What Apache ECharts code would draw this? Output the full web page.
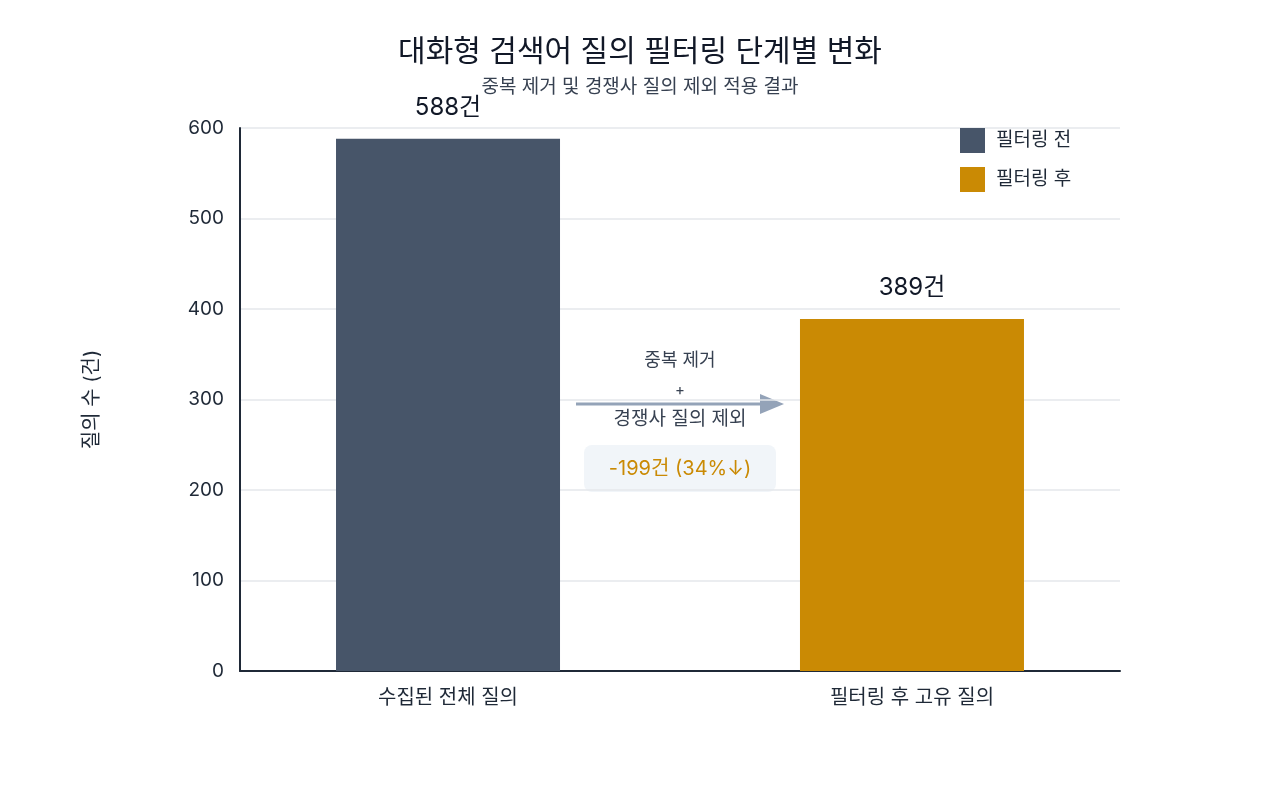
<!DOCTYPE html>
<html>
<head>
<meta charset="utf-8">
<script src="https://cdn.jsdelivr.net/npm/echarts@6/dist/echarts.min.js"></script>
<style>
  html, body { margin: 0; padding: 0; background: #fff; }
  #chart { width: 1280px; height: 800px; }
</style>
</head>
<body>
<div id="chart"></div>
<script>
const categories = ["수집된 전체 질의", "필터링 후 고유 질의"];
const seriesNames = ["필터링 전", "필터링 후"];
const beforeValues = [588, "-"];
const afterValues = ["-", 389];
const yTicks = [0, 100, 200, 300, 400, 500, 600];

const FONT = 'Inter, "Noto Sans CJK KR", sans-serif';
const DARK = "#1f2937";

var chart = echarts.init(document.getElementById("chart"));

chart.setOption({
  backgroundColor: "#ffffff",
  textStyle: { fontFamily: FONT },
  title: {
    text: "대화형 검색어 질의 필터링 단계별 변화",
    subtext: "중복 제거 및 경쟁사 질의 제외 적용 결과",
    left: "center",
    top: 32,
    itemGap: 11,
    textStyle: { fontSize: 30, fontWeight: "normal", color: "#111827", fontFamily: FONT },
    subtextStyle: { fontSize: 19, color: "#374151", fontFamily: FONT }
  },
  legend: {
    orient: "vertical",
    left: 960,
    top: 128,
    padding: 0,
    itemWidth: 25,
    itemHeight: 25,
    itemGap: 14,
    icon: "rect",
    data: seriesNames,
    textStyle: { fontSize: 19, color: DARK, padding: [0, 0, 0, 6], fontFamily: FONT }
  },
  grid: { left: 240, right: 160, top: 128, bottom: 129 },
  xAxis: {
    type: "category",
    data: categories,
    axisLine: { lineStyle: { color: "#1f2937", width: 2 } },
    axisTick: { show: false },
    axisLabel: {
      margin: 17,
      fontSize: 20,
      color: DARK,
      formatter: function (v, i) {
        return i === 0 ? "{l|" + v + "}" : "{r|" + v + "}";
      },
      rich: {
        l: { fontSize: 20, color: DARK, padding: [0, 24, 0, 0], fontFamily: FONT },
        r: { fontSize: 20, color: DARK, padding: [0, 0, 0, 24], fontFamily: FONT }
      }
    }
  },
  yAxis: {
    type: "value",
    min: yTicks[0],
    max: yTicks[yTicks.length - 1],
    interval: 100,
    name: "질의 수 (건)",
    nameLocation: "middle",
    nameGap: 138,
    nameRotate: 90,
    nameTextStyle: { fontSize: 20, color: DARK, fontFamily: FONT },
    axisLine: { show: true, lineStyle: { color: "#1f2937", width: 2 } },
    axisTick: { show: false },
    axisLabel: { margin: 16, fontSize: 19, color: DARK },
    splitLine: { lineStyle: { color: "#e5e7eb", width: 1.5 } }
  },
  series: [
    {
      name: seriesNames[0],
      type: "bar",
      data: beforeValues,
      barWidth: 224,
      barGap: "-89.3%",
      itemStyle: { color: "#475569" },
      label: {
        show: true, position: "top", distance: 19,
        formatter: "{c}건", fontSize: 24, color: "#111827"
      }
    },
    {
      name: seriesNames[1],
      type: "bar",
      data: afterValues,
      barWidth: 224,
      itemStyle: { color: "#ca8a04" },
      label: {
        show: true, position: "top", distance: 19,
        formatter: "{c}건", fontSize: 24, color: "#111827"
      }
    }
  ],
  graphic: [
    // 화살표
    { type: "line", shape: { x1: 576, y1: 404, x2: 764, y2: 404 },
      style: { stroke: "#94a3b8", lineWidth: 3 } },
    { type: "polygon", shape: { points: [[760, 394], [784, 404], [760, 414]] },
      style: { fill: "#94a3b8" } },
    { type: "text", x: 680, y: 361,
      style: { text: "중복 제거", fill: "#374151", align: "center", verticalAlign: "middle", font: "18px " + FONT } },
    { type: "text", x: 680, y: 390,
      style: { text: "+", fill: "#374151", align: "center", verticalAlign: "middle", font: "15px " + FONT } },
    { type: "text", x: 680, y: 419,
      style: { text: "경쟁사 질의 제외", fill: "#374151", align: "center", verticalAlign: "middle", font: "19px " + FONT } },
    { type: "rect", shape: { x: 584, y: 445, width: 192, height: 47, r: 8 },
      style: { fill: "#f1f5f9" } },
    { type: "text", x: 680, y: 469,
      style: { text: "-199건 (34%↓)", fill: "#ca8a04", align: "center", verticalAlign: "middle", font: "20px " + FONT } }
  ]
});
</script>
</body>
</html>
